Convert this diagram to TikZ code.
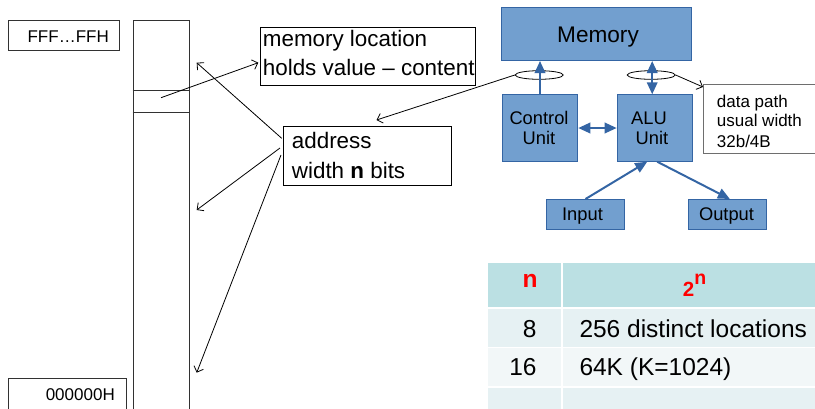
\documentclass[tikz,border=0pt]{standalone}
\usepackage{fontspec}
\setmainfont{Liberation Sans}
\usetikzlibrary{arrows.meta,shapes.geometric,calc}

\definecolor{boxblue}{RGB}{114,159,207}
\definecolor{lineblue}{RGB}{52,101,164}
\definecolor{hdrcell}{RGB}{187,224,227}
\definecolor{cellA}{RGB}{230,241,243}
\definecolor{cellB}{RGB}{242,247,248}
\definecolor{framegray}{RGB}{50,50,50}
\definecolor{notegray}{RGB}{110,110,110}

\newcommand{\setfs}[1]{\fontsize{#1}{#1}\selectfont}

\begin{document}
\begin{tikzpicture}[x=1pt,y=-1pt,
  plainbox/.style={draw=framegray, line width=0.9pt, fill=white, anchor=north west, inner sep=0pt},
  txt/.style={inner sep=0pt, anchor=base west},
  ctxt/.style={inner sep=0pt, anchor=base},
  cpubox/.style={draw=lineblue, fill=boxblue, line width=1pt, anchor=north west, inner sep=0pt},
  busarrow/.style={draw=lineblue, line width=2pt, -{Triangle[length=12pt,width=10.5pt]}},
  busboth/.style={draw=lineblue, line width=2pt, {Triangle[length=12pt,width=10.5pt]}-{Triangle[length=12pt,width=10.5pt]}},
  pointer/.style={draw=black, line width=0.8pt, -{Straight Barb[length=5pt,width=10pt]}},
  buswidth/.style={draw=black, line width=0.8pt, ellipse, minimum width=48pt, minimum height=8.6pt, inner sep=0pt},
  cell/.style={draw=white, line width=1.5pt, anchor=north west, inner sep=0pt},
]
\useasboundingbox (0,0) rectangle (815,408);

% ---- table of address widths ----
\node[cell, fill=hdrcell, minimum width=75pt, minimum height=45.6pt] (h1) at (486,261.7) {};
\node[cell, fill=hdrcell, minimum width=262pt, minimum height=45.6pt] (h2) at (561,261.7) {};
\node[cell, fill=cellA, minimum width=75pt, minimum height=39.4pt] (a1) at (486,307.3) {};
\node[cell, fill=cellA, minimum width=262pt, minimum height=39.4pt] (a2) at (561,307.3) {};
\node[cell, fill=cellB, minimum width=75pt, minimum height=39.3pt] (b1) at (486,346.7) {};
\node[cell, fill=cellB, minimum width=262pt, minimum height=39.3pt] (b2) at (561,346.7) {};
\node[cell, fill=cellA, minimum width=75pt, minimum height=30pt] (c1) at (486,386) {};
\node[cell, fill=cellA, minimum width=262pt, minimum height=30pt] (c2) at (561,386) {};

\node[ctxt, text=red] (hn) at (530,287.7) {\setfs{24.5}\bfseries n};
\node[txt, text=red] (htwo) at (682.7,296.7) {\setfs{20.5}\bfseries 2\raisebox{12.4pt}{\setfs{19.5}n}};
\node[txt, anchor=base east] (v8) at (536.7,337.3) {\setfs{24.5}8};
\node[txt] (d8) at (579.3,337.3) {\setfs{24.5}256 distinct locations};
\node[txt, anchor=base east] (v16) at (536.7,375) {\setfs{24.5}16};
\node[txt] (d16) at (579.3,375) {\setfs{24.5}64K (K=1024)};

% ---- memory column ----
\node[plainbox, minimum width=56.3pt, minimum height=420pt] (column) at (132.7,19.5) {};
\draw[draw=framegray, line width=0.9pt] (132.7,90.3) -- (189,90.3);
\draw[draw=framegray, line width=0.9pt] (132.7,112) -- (189,112);

\node[plainbox, minimum width=111pt, minimum height=30.5pt] (topaddr) at (8,19.5) {};
\node[txt, anchor=base east] (topaddrtxt) at (109,42.7) {\setfs{17}FFF…FFH};
\node[plainbox, minimum width=117.7pt, minimum height=40pt] (botaddr) at (8,378.3) {};
\node[txt, anchor=base east] (botaddrtxt) at (115,400.7) {\setfs{17}000000H};

% ---- captions ----
\node[plainbox, draw=black, minimum width=215pt, minimum height=58.3pt] (memloc) at (260,26.7) {};
\node[txt] (memlocA) at (262.7,46.7) {\setfs{22.4}memory location};
\node[txt] (memlocB) at (262.7,75) {\setfs{22.4}holds value – content};

\node[plainbox, draw=black, minimum width=168.3pt, minimum height=59pt] (addr) at (282.7,126) {};
\node[txt] (addrA) at (291.7,148.3) {\setfs{22.4}address};
\node[txt] (addrB) at (291.7,178.3) {\setfs{22.4}width \textbf{n} bits};

% ---- CPU block diagram ----
\node[cpubox, minimum width=190.3pt, minimum height=52.7pt] (mem) at (500.7,7.3) {};
\node[ctxt] (memtxt) at (598,42.7) {\setfs{22.6}Memory};
\node[cpubox, minimum width=75.6pt, minimum height=66.4pt] (ctrl) at (501.7,94.3) {};
\node[ctxt] (ctrlA) at (539,124) {\setfs{18.3}Control};
\node[ctxt] (ctrlB) at (539,144) {\setfs{18.3}Unit};
\node[cpubox, minimum width=75pt, minimum height=66.4pt] (alu) at (616.7,94.3) {};
\node[ctxt] (aluA) at (649,124) {\setfs{18.3}ALU};
\node[ctxt] (aluB) at (652,144) {\setfs{18.3}Unit};
\node[cpubox, minimum width=78pt, minimum height=30.3pt] (inp) at (546,199) {};
\node[ctxt] (inptxt) at (582.5,220) {\setfs{18.3}Input};
\node[cpubox, minimum width=78.3pt, minimum height=30.3pt] (outp) at (687.7,199) {};
\node[ctxt] (outptxt) at (726.5,220) {\setfs{18.3}Output};

\node[plainbox, draw=notegray, minimum width=120pt, minimum height=69.3pt] (dpath) at (702.7,84) {};
\node[txt] (dpathA) at (716.7,107.3) {\setfs{17}data path};
\node[txt] (dpathB) at (716.7,126.3) {\setfs{17}usual width};
\node[txt] (dpathC) at (716.7,147.3) {\setfs{17}32b/4B};

\node[buswidth] (busL) at (539.2,75) {};
\node[buswidth] (busR) at (651.2,75) {};

% buses
\draw[busarrow] (ctrl.north) -- (ctrl.north |- mem.south);
\draw[busboth] ($(alu.north)+(-2.5,0)$) -- ($(alu.north |- mem.south)+(-2.5,0)$);
\draw[busboth] (ctrl.east) -- (alu.west);
\draw[busarrow] (inp.north) -- ($(alu.south)+(-7.5,0)$);
\draw[busarrow] ($(alu.south)+(2.5,0)$) -- ($(outp.north)+(2.5,0)$);

% ---- pointers ----
\coordinate (cellpt) at (161,97.7);
\coordinate (upper) at (196.7,62.7);
\coordinate (middle) at (196.7,210);
\coordinate (lower) at (196.7,372.7);

\draw[pointer] (cellpt) -- ($(memloc.north west)+(-1.7,36)$);
\draw[pointer] ($(addr.north west)+(-1,12.3)$) -- (upper);
\draw[pointer] ($(addr.north west)+(-2.7,22)$) -- (middle);
\draw[pointer] ($(addr.north west)+(-1.7,29)$) -- (lower);
\draw[pointer] (busL.west) -- ($(addr.north)+(9.2,-6)$);
\draw[pointer] (busR.east) -- ($(dpath.north west)+(0.3,3)$);
\end{tikzpicture}
\end{document}
